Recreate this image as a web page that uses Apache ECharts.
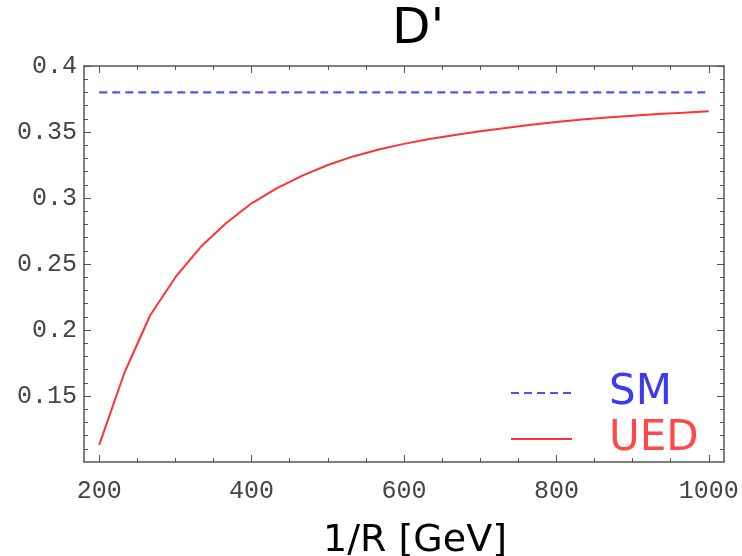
<!DOCTYPE html>
<html>
<head>
<meta charset="utf-8">
<script src="https://cdn.jsdelivr.net/npm/echarts@6/dist/echarts.min.js"></script>
<style>html,body{margin:0;padding:0;background:#fff}#c{width:742px;height:556px}</style>
</head>
<body>
<div id="c"></div>
<script>
// ---- data ----
const xValues = [200, 233.3, 266.7, 300, 333.3, 366.7, 400, 433.3, 466.7, 500, 533.3, 566.7, 600,
  633.3, 666.7, 700, 733.3, 766.7, 800, 833.3, 866.7, 900, 933.3, 966.7, 1000];
const uedValues = [0.113, 0.168, 0.211, 0.240, 0.263, 0.281, 0.296, 0.3075, 0.317, 0.325, 0.3315, 0.3367, 0.341,
  0.3447, 0.3478, 0.3505, 0.353, 0.3555, 0.3575, 0.3595, 0.361, 0.3623, 0.3636, 0.3646, 0.3657];
const smValue = 0.38;
const smX = [200, 1000];
const xMajorTicks = [200, 400, 600, 800, 1000];
const xMinorTicks = [250, 300, 350, 450, 500, 550, 650, 700, 750, 850, 900, 950];
const yMajorTicks = [0.15, 0.2, 0.25, 0.3, 0.35, 0.4];
const yMinorTicks = [0.11,0.12,0.13,0.14,0.16,0.17,0.18,0.19,0.21,0.22,0.23,0.24,0.26,0.27,0.28,0.29,0.31,0.32,0.33,0.34,0.36,0.37,0.38,0.39];
const seriesNames = ['SM', 'UED'];

const frameColor = '#555';
const tickFont = {fontFamily: 'Liberation Mono', fontSize: 25, color: '#444'};

function xAx(pos, ticks, len, showLine, showLabel) {
  return {
    type: 'value', position: pos, min: 180, max: 1020,
    axisLine: {show: showLine, onZero: false, lineStyle: {color: frameColor, width: 1.5}},
    axisTick: {show: true, inside: true, length: len, customValues: ticks, lineStyle: {color: frameColor, width: 1}},
    axisLabel: showLabel ? Object.assign({show: true, margin: 17, customValues: ticks, formatter: v => String(v)}, tickFont) : {show: false},
    splitLine: {show: false}
  };
}
function yAx(pos, ticks, len, showLine, showLabel) {
  return {
    type: 'value', position: pos, min: 0.1, max: 0.4,
    axisLine: {show: showLine, onZero: false, lineStyle: {color: frameColor, width: 1.5}},
    axisTick: {show: true, inside: true, length: len, customValues: ticks, lineStyle: {color: frameColor, width: 1}},
    axisLabel: showLabel ? Object.assign({show: true, margin: 7, customValues: ticks, formatter: v => String(v)}, tickFont) : {show: false},
    splitLine: {show: false}
  };
}

const chart = echarts.init(document.getElementById('c'));
chart.setOption({
  animation: false,
  backgroundColor: '#fff',
  title: {
    text: "D'", left: 387, top: 0,
    textStyle: {fontFamily: 'DejaVu Sans', fontSize: 50, fontWeight: 'normal', color: '#000'}
  },
  grid: {left: 84, right: 18, top: 66, bottom: 94, containLabel: false, outerBoundsMode: 'none'},
  xAxis: [
    Object.assign(xAx('bottom', xMajorTicks, 7, true, true), {
      name: '1/R [GeV]', nameLocation: 'middle', nameGap: 60,
      nameTextStyle: {fontFamily: 'DejaVu Sans', fontSize: 38, color: '#000', padding: [0, 0, 0, 22]}
    }),
    xAx('bottom', xMinorTicks, 4, false, false),
    xAx('top', xMajorTicks, 7, true, false),
    xAx('top', xMinorTicks, 4, false, false)
  ],
  yAxis: [
    yAx('left', yMajorTicks, 7, true, true),
    yAx('left', yMinorTicks, 4, false, false),
    yAx('right', yMajorTicks, 7, true, false),
    yAx('right', yMinorTicks, 4, false, false)
  ],
  legend: {
    orient: 'vertical', left: 505, top: 367,
    itemWidth: 61, itemHeight: 14, itemGap: 4,
    itemStyle: {opacity: 0},
    data: [
      {name: seriesNames[0], textStyle: {color: '#3b3bef'}},
      {name: seriesNames[1], textStyle: {color: '#ff4848'}}
    ],
    textStyle: {fontFamily: 'DejaVu Sans', fontSize: 42, padding: [0, 0, 0, 32], lineHeight: 40}
  },
  series: [
    {
      name: seriesNames[0], type: 'line', showSymbol: false, symbol: 'none',
      data: smX.map(x => [x, smValue]),
      lineStyle: {color: '#5050ff', width: 2.2, type: [8, 5]},
      itemStyle: {color: '#5050ff'}
    },
    {
      name: seriesNames[1], type: 'line', showSymbol: false, symbol: 'none',
      data: xValues.map((x, i) => [x, uedValues[i]]),
      lineStyle: {color: '#ff3333', width: 2},
      itemStyle: {color: '#ff3333'}
    }
  ]
});
</script>
</body>
</html>
